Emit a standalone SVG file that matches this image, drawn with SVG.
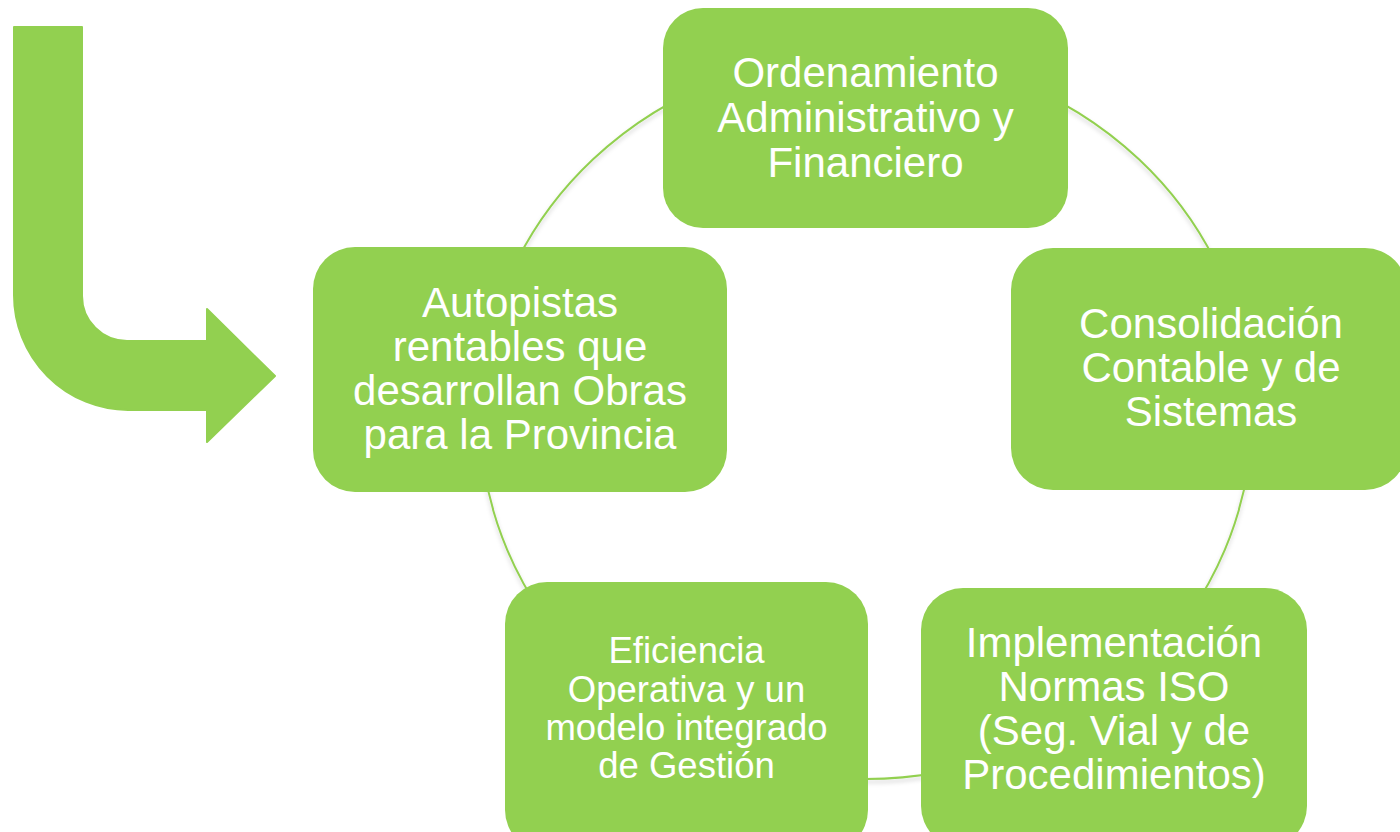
<svg xmlns="http://www.w3.org/2000/svg" width="1400" height="832" viewBox="0 0 1400 832">
<style>
.node{fill:#92D050;}
.lbl{fill:#FFFFFF;font-family:"Liberation Sans",Arial,sans-serif;text-anchor:middle;}
.big{font-size:42px;}
.small{font-size:36.5px;}
.ring{fill:none;stroke:#92D050;stroke-width:2;}
</style>
<defs>
<filter id="sh" x="-10%" y="-10%" width="120%" height="120%">
<feDropShadow dx="0" dy="3" stdDeviation="2" flood-color="#000000" flood-opacity="0.18"/>
</filter>
</defs>
<rect width="1400" height="832" fill="#FFFFFF"/>
<g id="connectors">
<ellipse class="ring" cx="866" cy="416" rx="386" ry="363" filter="url(#sh)"/>
</g>
<g id="arrow">
<path fill="#92D050" stroke="#92D050" stroke-width="2" stroke-linejoin="round" d="M14,27 H82 V296 A45,45 0 0 0 127,341 H207 V309 L275,376 L207,442 V410 H128 A115,115 0 0 1 14,295 Z"/>
</g>
<g id="node-ordenamiento">
<rect class="node" x="663" y="8" width="405" height="220" rx="40"/>
<text class="lbl big" x="865.5" y="87">Ordenamiento</text>
<text class="lbl big" x="865.5" y="132">Administrativo y</text>
<text class="lbl big" x="865.5" y="177">Financiero</text>
</g>
<g id="node-consolidacion">
<rect class="node" x="1011" y="248" width="396" height="242" rx="42"/>
<text class="lbl big" x="1211" y="338">Consolidación</text>
<text class="lbl big" x="1211" y="382">Contable y de</text>
<text class="lbl big" x="1211" y="426">Sistemas</text>
</g>
<g id="node-implementacion">
<rect class="node" x="921" y="588" width="386" height="260" rx="42"/>
<text class="lbl big" x="1114" y="657">Implementación</text>
<text class="lbl big" x="1114" y="701">Normas ISO</text>
<text class="lbl big" x="1114" y="745">(Seg. Vial y de</text>
<text class="lbl big" x="1114" y="789">Procedimientos)</text>
</g>
<g id="node-eficiencia">
<rect class="node" x="505" y="582" width="363" height="270" rx="42"/>
<text class="lbl small" x="686.5" y="663">Eficiencia</text>
<text class="lbl small" x="686.5" y="702">Operativa y un</text>
<text class="lbl small" x="686.5" y="740">modelo integrado</text>
<text class="lbl small" x="686.5" y="778">de Gestión</text>
</g>
<g id="node-autopistas">
<rect class="node" x="313" y="247" width="414" height="245" rx="42"/>
<text class="lbl big" x="520" y="317">Autopistas</text>
<text class="lbl big" x="520" y="361">rentables que</text>
<text class="lbl big" x="520" y="405">desarrollan Obras</text>
<text class="lbl big" x="520" y="449">para la Provincia</text>
</g>
</svg>
